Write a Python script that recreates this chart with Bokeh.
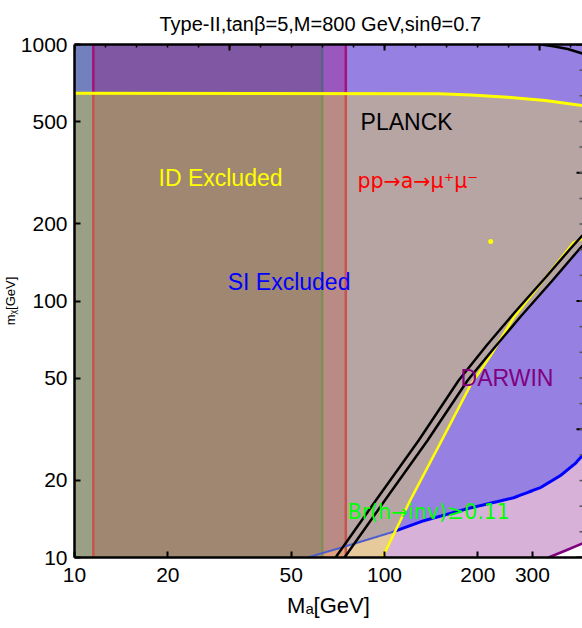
import numpy as np
from bokeh.plotting import figure
from bokeh.models import Range1d, LogAxis, FixedTicker, ColumnDataSource, NumeralTickFormatter, Title
from bokeh.core.properties import value
from bokeh.embed import file_html
from bokeh.resources import INLINE

# ---------------- data ----------------
x_ticks = [10, 20, 50, 100, 200, 300]
y_ticks = [10, 20, 50, 100, 200, 500, 1000]
frame_major_ticks = [10, 10 ** 1.5, 100, 10 ** 2.5, 1000]
frame_minor_ticks = [10 ** (k_ / 10) for k_ in range(10, 31)]

# vertical exclusion edges (M_a in GeV)
ma_edges = [11.5, 63.0, 75.0]

# ID excluded: upper (nearly horizontal) yellow boundary
id_top_x = [10, 150, 190, 250, 330, 435]
id_top_y = [645, 643, 636, 623, 605, 578]

# ID excluded: diagonal yellow boundary
id_diag_x = [98.5, 121, 151, 189, 220, 261, 319, 407, 435]
id_diag_y = [10, 16.7, 27.8, 46.8, 61.3, 86.2, 117, 169, 175]

# isolated ID point
id_dot_x = [220]
id_dot_y = [170.6]

# PLANCK relic-density contours (black)
planck1_x = [69.5, 94.2, 128.8, 173.3, 213.3, 262.7, 330.6, 398.1, 435]
planck1_y = [10, 16.83, 28.6, 49.0, 67.1, 90.2, 123.5, 160.2, 180.1]
planck2_x = [74.3, 100.7, 137.6, 185.2, 226.4, 276.6, 345.7, 413.2, 435]
planck2_y = [10, 16.83, 28.6, 49.0, 65.9, 87.8, 119.1, 153.2, 164.6]
planck3_x = [320, 350, 390, 435]
planck3_y = [1000, 985, 960, 922]

# SI exclusion boundary (blue)
si_x = [56.4, 72, 104.6, 133.6, 185, 261, 319, 370, 413, 435]
si_y = [10, 10.9, 12.5, 13.9, 15.5, 17.1, 18.75, 20.9, 23.3, 25.0]

# DARWIN reach (purple)
darwin_x = [338, 384, 435]
darwin_y = [10, 10.65, 11.35]

# annotations
label_text = ["PLANCK", "ID Excluded", "SI Excluded", "DARWIN"]
label_x = [83.7, 18.66, 31.2, 175.9]
label_y = [496.6, 300.4, 119.1, 49.9]
label_color = ["#000000", "#FFFF00", "#0000FF", "#800080"]

arrow_text = ["pp\u2192a\u2192\u03bc\u207a\u03bc\u207b", "Br(h\u2192inv)\u22650.11"]
arrow_x = [81.8, 76.0]
arrow_y = [292.4, 14.98]
arrow_color = ["#FF0000", "#00FF00"]

# ---------------- geometry helpers ----------------
X0, X1 = 10, 435
Y0, Y1 = 10, 1000
L = np.log10


def interp_log(q, xp, fp):
    return 10 ** np.interp(L(np.asarray(q, dtype=float)), L(np.asarray(xp, dtype=float)),
                           L(np.asarray(fp, dtype=float)))


def id_edge(m):
    return np.maximum(interp_log(m, id_diag_y, id_diag_x), interp_log(m, planck2_y, planck2_x))


FONT = "Liberation Sans"

p = figure(width=582, height=628, x_axis_type="log", y_axis_type="log",
           x_range=Range1d(X0, X1), y_range=Range1d(Y0, Y1),
           output_backend="svg", toolbar_location=None,
           min_border_left=74, min_border_right=0, min_border_top=44, min_border_bottom=71,
           background_fill_color="#9680E1", border_fill_color="white", outline_line_color=None)
p.grid.visible = False

# below SI curve -> pink
bxs = np.logspace(L(si_x[0]), L(si_x[-1]), 400)
bys = interp_log(bxs, si_x, si_y)
p.patch(list(bxs) + [X1], list(bys) + [Y0], fill_color="#D8B1D8", line_color=None)

# below DARWIN -> white
p.patch(darwin_x + [X1], darwin_y + [Y0], fill_color="#FFFFFF", line_color=None)

# ID excluded region
m_grid = np.logspace(L(Y0), L(planck2_y[-1]), 300)
edge = id_edge(m_grid)
p.patch([X0] + id_top_x + list(edge[::-1]), [Y0] + id_top_y + list(m_grid[::-1]),
        fill_color="#B7A5A4", line_color=None)

# ID region below SI curve -> tan
inside = bxs <= id_edge(bys)
k = int(np.argmin(inside)) if not inside.all() else len(bxs)
m_sub = np.logspace(L(bys[k - 1]), L(Y0), 60)
p.patch(list(bxs[:k]) + list(id_edge(m_sub)), list(bys[:k]) + list(m_sub),
        fill_color="#E6CA9C", line_color=None)

# vertical bands (left of 75 GeV)
band_lo = [X0] + ma_edges[:2]
band_hi = ma_edges
band_top_col = ["#7380BE", "#7F57A2", "#9A57BE"]
band_bot_col = ["#9AA086", "#A08771", "#BA8A84"]
band_blue_col = ["#9AA086", "#B8906E", "#E0A27A"]
for a, b, ct, cb, cbl in zip(band_lo, band_hi, band_top_col, band_bot_col, band_blue_col):
    split = float(interp_log(a, id_top_x, id_top_y))
    p.quad(left=[a], right=[b], bottom=[split], top=[Y1], fill_color=ct, line_color=None)
    p.quad(left=[a], right=[b], bottom=[Y0], top=[split], fill_color=cb, line_color=None)
    lo = max(a, si_x[0])
    if lo < b:
        xs = np.logspace(L(lo), L(b), 30)
        ys = interp_log(xs, si_x, si_y)
        p.patch([xs[0]] + list(xs) + [xs[-1]], [Y0] + list(ys) + [Y0], fill_color=cbl, line_color=None)

# vertical edge lines
edge_top_col = ["#A8107A", "#4F6480", "#A8107A"]
edge_bot_col = ["#C8524C", "#7A8F4F", "#C8524C"]
edge_w = [2.5, 2, 2.5]
for e, ct, cb, w in zip(ma_edges, edge_top_col, edge_bot_col, edge_w):
    split = float(interp_log(e, id_top_x, id_top_y))
    p.line([e, e], [split, Y1], line_color=ct, line_width=w)
    p.line([e, e], [Y0, split], line_color=cb, line_width=w)

# SI boundary
p.line(list(bxs[:k]), list(bys[:k]), line_color="#4C5ECC", line_width=2)
p.line(list(bxs[k - 1:]), list(bys[k - 1:]), line_color="#0000FF", line_width=3)

# ID boundaries
p.line(id_top_x, id_top_y, line_color="#FFFF00", line_width=3)
p.line(id_diag_x, id_diag_y, line_color="#FFFF00", line_width=2.5)
p.scatter(id_dot_x, id_dot_y, size=5, marker="circle", fill_color="#FFFF00", line_color=None)

# PLANCK contours
for xs, ys in [(planck1_x, planck1_y), (planck2_x, planck2_y), (planck3_x, planck3_y)]:
    p.line(xs, ys, line_color="#000000", line_width=2.5)

# DARWIN
p.line(darwin_x, darwin_y, line_color="#800080", line_width=2.5)

# labels
src = ColumnDataSource(dict(x=label_x, y=label_y, text=label_text, color=label_color))
p.text(x="x", y="y", text="text", text_color="color", source=src,
       text_font=value(FONT), text_font_size=value("23px"),
       text_align="left", text_baseline="middle")
src2 = ColumnDataSource(dict(x=arrow_x, y=arrow_y, text=arrow_text, color=arrow_color))
p.text(x="x", y="y", text="text", text_color="color", source=src2,
       text_font=value("DejaVu Sans"), text_font_size=value("20.5px"),
       text_align="left", text_baseline="middle")

# frame ticks on top and right (inward, unlabeled)
top_major = [t for t in frame_major_ticks if t <= X1]
top_minor = [t for t in frame_minor_ticks if t <= X1]
dy_major = 10 ** (6 / 256.5)
dy_minor = 10 ** (3 / 256.5)
p.segment(x0=top_major, x1=top_major, y0=[Y1] * len(top_major), y1=[Y1 / dy_major] * len(top_major),
          line_color="black", line_width=2)
p.segment(x0=top_minor, x1=top_minor, y0=[Y1] * len(top_minor), y1=[Y1 / dy_minor] * len(top_minor),
          line_color="black", line_width=1.5)
dx_major = 10 ** (6 / 310)
dx_minor = 10 ** (3 / 310)
p.segment(x0=[X1] * len(frame_major_ticks), x1=[X1 / dx_major] * len(frame_major_ticks),
          y0=frame_major_ticks, y1=frame_major_ticks, line_color="black", line_width=2)
p.segment(x0=[X1] * len(frame_minor_ticks), x1=[X1 / dx_minor] * len(frame_minor_ticks),
          y0=frame_minor_ticks, y1=frame_minor_ticks, line_color="#555555", line_width=1.5)

# axes
for ax in (p.xaxis[0], p.yaxis[0]):
    ax.major_tick_in = 6
    ax.major_tick_out = 0
    ax.minor_tick_in = 0
    ax.minor_tick_out = 0
    ax.axis_line_width = 2.5
    ax.axis_line_color = "black"
    ax.major_tick_line_width = 2
    ax.major_tick_line_color = "black"
    ax.major_label_text_font = FONT
    ax.major_label_text_font_size = "21px"
    ax.major_label_text_font_style = "normal"
    ax.major_label_text_color = "black"
    ax.axis_label_text_font = FONT
    ax.axis_label_text_font_style = "normal"
    ax.axis_label_text_font_size = "22px"
    ax.axis_label_text_color = "black"
    ax.formatter = NumeralTickFormatter(format="0")
p.xaxis[0].ticker = FixedTicker(ticks=x_ticks, minor_ticks=[])
p.yaxis[0].ticker = FixedTicker(ticks=y_ticks, minor_ticks=[])
p.xaxis[0].major_label_standoff = 10
p.yaxis[0].major_label_standoff = 7
p.xaxis[0].axis_label = "M\u2090[GeV]"
p.xaxis[0].axis_label_standoff = 8

top = LogAxis(ticker=FixedTicker(ticks=[], minor_ticks=[]), axis_line_width=2.5, axis_line_color="black",
              major_tick_in=0, major_tick_out=0, minor_tick_in=0, minor_tick_out=0,
              major_label_standoff=0)
p.add_layout(top, "above")

ylab = Title(text="m\u1d6a[GeV]", align="center", text_font=FONT, text_font_size="13px",
             text_font_style="normal", text_color="black", standoff=0)
p.add_layout(ylab, "left")

p.title.text = "Type-II,tan\u03b2=5,M=800 GeV,sin\u03b8=0.7"
p.title.align = "left"
p.title.offset = 85
p.title.text_font = FONT
p.title.text_font_style = "normal"
p.title.text_color = "black"
p.title.text_font_size = "20px"
p.title.standoff = 20

open("out.html", "w").write(file_html(p, INLINE))
